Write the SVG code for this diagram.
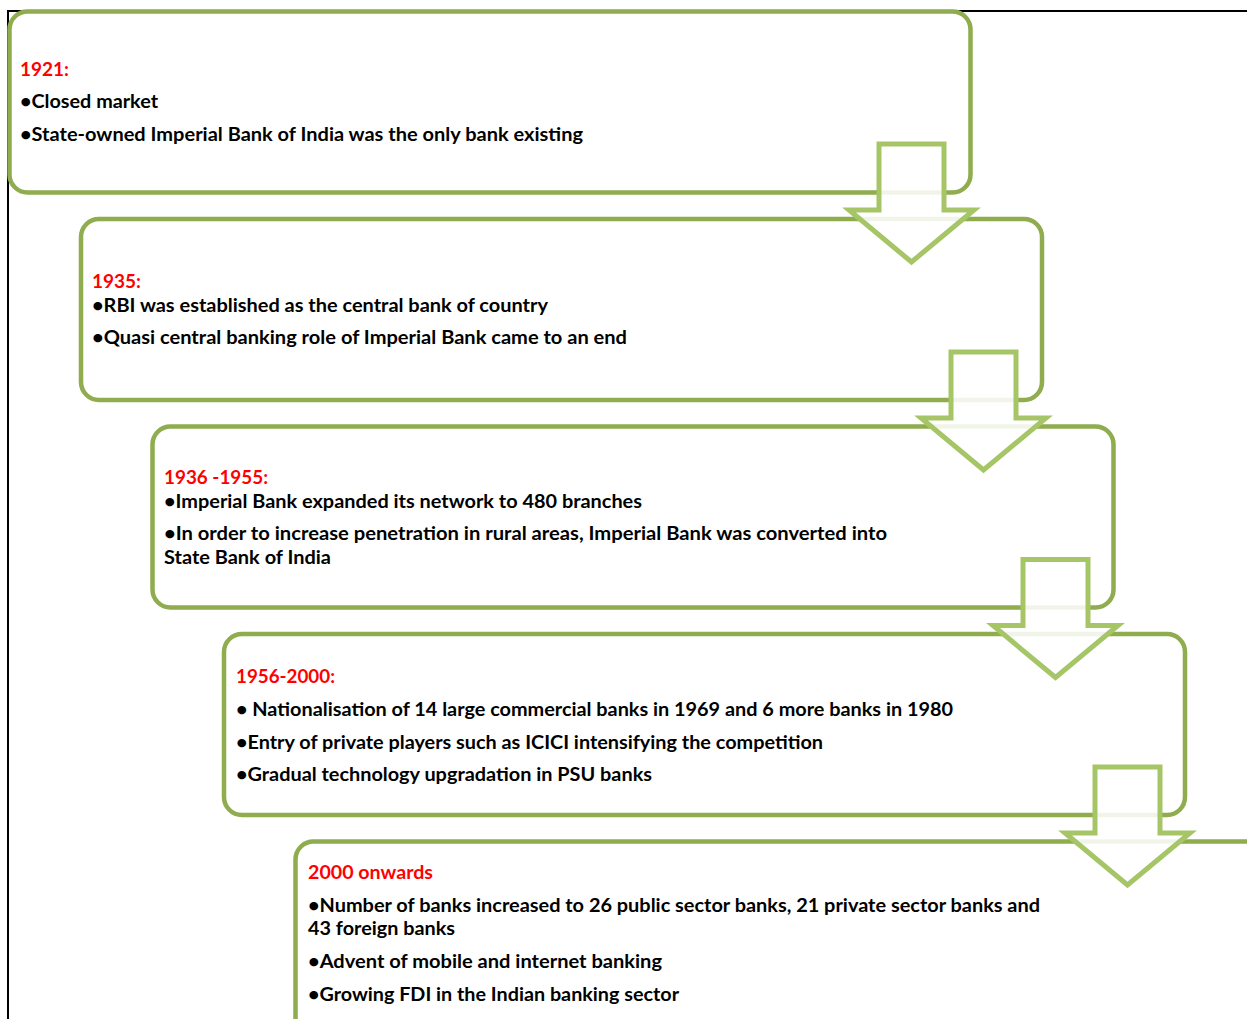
<svg xmlns="http://www.w3.org/2000/svg" width="1247" height="1019" viewBox="0 0 1247 1019">
<style>
.box{fill:#fff;stroke:#8FAC4E;stroke-width:4.5}
.arr{fill:#fff;fill-opacity:0.88;stroke:#A5C566;stroke-width:5;stroke-linejoin:miter}
text{font-family:Lato,"Liberation Sans",Arial,sans-serif;font-weight:bold;font-size:19px;fill:#000}
.yr{fill:#FF0000}
.frame{stroke:#000;stroke-width:2;fill:none}
</style>
<rect width="1247" height="1019" fill="#fff"/>
<path class="frame" d="M8,1019 V11 H1247"/>
<g id="node1">
<rect class="box" x="9.5" y="11.5" width="961" height="181" rx="18"/>
<text class="yr" x="20" y="76" textLength="49" lengthAdjust="spacingAndGlyphs">1921:</text>
<text x="20" y="108" textLength="138" lengthAdjust="spacingAndGlyphs">•Closed market</text>
<text x="20" y="141" textLength="563" lengthAdjust="spacingAndGlyphs">•State-owned Imperial Bank of India was the only bank existing</text>
</g>
<g id="node2">
<rect class="box" x="81" y="219" width="961" height="181" rx="18"/>
<text class="yr" x="92" y="288" textLength="49" lengthAdjust="spacingAndGlyphs">1935:</text>
<text x="92" y="312" textLength="456" lengthAdjust="spacingAndGlyphs">•RBI was established as the central bank of country</text>
<text x="92" y="344" textLength="535" lengthAdjust="spacingAndGlyphs">•Quasi central banking role of Imperial Bank came to an end</text>
</g>
<g id="node3">
<rect class="box" x="152.5" y="426.5" width="961" height="181" rx="18"/>
<text class="yr" x="164" y="484" textLength="104" lengthAdjust="spacingAndGlyphs">1936 -1955:</text>
<text x="164" y="508" textLength="478" lengthAdjust="spacingAndGlyphs">•Imperial Bank expanded its network to 480 branches</text>
<text x="164" y="540" textLength="723" lengthAdjust="spacingAndGlyphs">•In order to increase penetration in rural areas, Imperial Bank was converted into</text>
<text x="164" y="564" textLength="167" lengthAdjust="spacingAndGlyphs">State Bank of India</text>
</g>
<g id="node4">
<rect class="box" x="224" y="634" width="961" height="181" rx="18"/>
<text class="yr" x="236" y="683" textLength="99" lengthAdjust="spacingAndGlyphs">1956-2000:</text>
<text x="236" y="716" textLength="717" lengthAdjust="spacingAndGlyphs">• Nationalisation of 14 large commercial banks in 1969 and 6 more banks in 1980</text>
<text x="236" y="749" textLength="587" lengthAdjust="spacingAndGlyphs">•Entry of private players such as ICICI intensifying the competition</text>
<text x="236" y="781" textLength="416" lengthAdjust="spacingAndGlyphs">•Gradual technology upgradation in PSU banks</text>
</g>
<g id="node5">
<rect class="box" x="295.5" y="841.5" width="1000" height="250" rx="18"/>
<text class="yr" x="308" y="879" textLength="125" lengthAdjust="spacingAndGlyphs">2000 onwards</text>
<text x="308" y="912" textLength="732" lengthAdjust="spacingAndGlyphs">•Number of banks increased to 26 public sector banks, 21 private sector banks and</text>
<text x="308" y="935" textLength="147" lengthAdjust="spacingAndGlyphs">43 foreign banks</text>
<text x="308" y="968" textLength="354" lengthAdjust="spacingAndGlyphs">•Advent of mobile and internet banking</text>
<text x="308" y="1001" textLength="371" lengthAdjust="spacingAndGlyphs">•Growing FDI in the Indian banking sector</text>
</g>
<g id="connectors">
<path class="arr" d="M879,144 H944 V210 H974 L911.5,262 L849,210 H879 Z"/>
<path class="arr" d="M951,352 H1016 V418 H1046 L983.5,470 L921,418 H951 Z"/>
<path class="arr" d="M1023,559.5 H1088 V625.5 H1118 L1055.5,677.5 L993,625.5 H1023 Z"/>
<path class="arr" d="M1095,767 H1160 V833 H1190 L1127.5,885 L1065,833 H1095 Z"/>
</g>
</svg>
